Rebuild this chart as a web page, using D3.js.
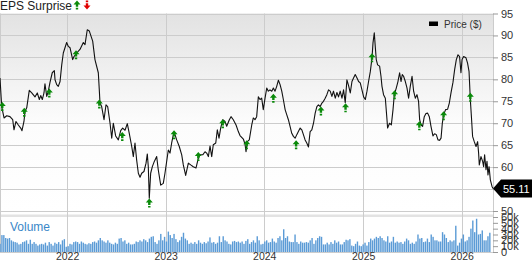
<!DOCTYPE html>
<html>
<head>
<meta charset="utf-8">
<script src="https://cdn.jsdelivr.net/npm/d3@7"></script>
<style>
  body { margin: 0; background: #fff; }
  text { font-family: "Liberation Sans", Arial, sans-serif; }
</style>
</head>
<body>
<div id="chart"></div>
<script>
// Price history, dates as decimal years
var priceDates = [
  2021.320, 2021.337, 2021.361, 2021.388, 2021.421, 2021.449, 2021.462, 2021.482, 2021.506, 2021.530,
  2021.543, 2021.563, 2021.574, 2021.591, 2021.617, 2021.642, 2021.675, 2021.698, 2021.719, 2021.733,
  2021.749, 2021.766, 2021.776, 2021.794, 2021.810, 2021.827, 2021.850, 2021.871, 2021.878, 2021.895,
  2021.911, 2021.929, 2021.946, 2021.962, 2021.996,
  2022.013, 2022.030, 2022.057, 2022.071, 2022.098, 2022.131, 2022.165, 2022.182, 2022.205, 2022.226,
  2022.260, 2022.283, 2022.317, 2022.327, 2022.334, 2022.351, 2022.375, 2022.395, 2022.412, 2022.436,
  2022.453, 2022.469, 2022.493, 2022.520, 2022.544, 2022.564, 2022.588, 2022.611, 2022.631, 2022.656,
  2022.672, 2022.689, 2022.706, 2022.723, 2022.740, 2022.757, 2022.780, 2022.801, 2022.814, 2022.824,
  2022.834, 2022.848, 2022.865, 2022.885, 2022.909, 2022.925, 2022.950, 2022.976, 2022.993,
  2023.027, 2023.044, 2023.061, 2023.078, 2023.095, 2023.112, 2023.138, 2023.163, 2023.179, 2023.203,
  2023.230, 2023.254, 2023.280, 2023.308, 2023.331, 2023.348, 2023.376, 2023.399, 2023.416, 2023.433,
  2023.450, 2023.467, 2023.483, 2023.508, 2023.524, 2023.541, 2023.558, 2023.579, 2023.602, 2023.619,
  2023.646, 2023.663, 2023.686, 2023.714, 2023.737, 2023.754, 2023.788, 2023.805, 2023.815, 2023.828,
  2023.848, 2023.873, 2023.889, 2023.906, 2023.923, 2023.940, 2023.957, 2023.974, 2023.990,
  2024.008, 2024.025, 2024.041, 2024.058, 2024.076, 2024.092, 2024.109, 2024.126, 2024.143, 2024.160,
  2024.177, 2024.193, 2024.211, 2024.228, 2024.244, 2024.261, 2024.278, 2024.295, 2024.312, 2024.329,
  2024.345, 2024.363, 2024.380, 2024.396, 2024.413, 2024.430, 2024.447, 2024.464, 2024.481, 2024.498,
  2024.515, 2024.532, 2024.548, 2024.566, 2024.583, 2024.599, 2024.616, 2024.633, 2024.650, 2024.667,
  2024.684, 2024.700, 2024.718, 2024.735, 2024.751, 2024.768, 2024.786, 2024.802, 2024.819, 2024.836,
  2024.852, 2024.870, 2024.887, 2024.903, 2024.920, 2024.938, 2024.954, 2024.971, 2024.988,
  2025.005, 2025.022, 2025.039, 2025.055, 2025.073, 2025.090, 2025.100, 2025.113, 2025.123, 2025.133,
  2025.147, 2025.167, 2025.181, 2025.191, 2025.207, 2025.225, 2025.242, 2025.248, 2025.268, 2025.286,
  2025.303, 2025.316, 2025.336, 2025.353, 2025.370, 2025.384, 2025.397, 2025.410, 2025.428, 2025.445,
  2025.461, 2025.478, 2025.496, 2025.512, 2025.529, 2025.546, 2025.562, 2025.573, 2025.587, 2025.603,
  2025.620, 2025.637, 2025.654, 2025.671, 2025.688, 2025.708, 2025.725, 2025.742, 2025.759, 2025.775,
  2025.790, 2025.803, 2025.816, 2025.836, 2025.857, 2025.874, 2025.891, 2025.911, 2025.928, 2025.945,
  2025.962, 2025.978, 2025.992,
  2026.003, 2026.019, 2026.043, 2026.059, 2026.074, 2026.087, 2026.100, 2026.110, 2026.127, 2026.145,
  2026.161, 2026.171, 2026.178, 2026.195, 2026.212, 2026.222, 2026.232, 2026.246, 2026.256, 2026.266,
  2026.277, 2026.290, 2026.307, 2026.317
];
var priceValues = [
  80.3, 73.8, 71.2, 71.7, 71.5, 70.8, 68.5, 70.4, 69.6, 68.9,
  68.3, 70.4, 72.7, 73.5, 77.5, 76.9, 76.0, 76.9, 75.4, 76.3,
  75.4, 76.9, 79.0, 76.1, 77.3, 79.3, 81.5, 82.0, 79.9, 78.8,
  78.4, 79.5, 83.3, 86.0, 88.4,
  87.5, 87.2, 84.5, 85.2, 86.0, 86.8, 88.4, 87.9, 91.3, 91.0,
  88.7, 84.5, 81.5, 77.6, 74.6, 73.8, 70.8, 74.2, 73.8, 70.0,
  66.6, 70.0, 67.1, 66.2, 68.3, 68.9, 68.4, 69.9, 67.7, 64.7,
  62.4, 65.5, 61.6, 58.6, 57.7, 58.6, 59.0, 60.9, 63.0, 60.1,
  52.9, 58.6, 60.1, 61.3, 62.4, 59.4, 55.9, 56.3, 58.6,
  63.9, 63.2, 65.5, 67.4, 67.4, 66.2, 64.7, 62.8, 60.5, 58.1,
  60.9, 60.5, 60.1, 59.8, 62.0, 62.8, 62.8, 63.5, 63.2, 62.4,
  64.8, 62.4, 65.1, 65.5, 68.5, 66.6, 68.9, 70.8, 70.4, 69.3,
  70.8, 71.5, 70.8, 69.6, 68.1, 67.2, 66.4, 65.2, 63.5, 65.8,
  66.2, 69.6, 71.2, 70.8, 71.5, 76.0, 75.4, 75.7, 73.1,
  75.7, 78.0, 77.3, 77.6, 77.3, 78.0, 77.3, 78.4, 79.8, 78.8,
  77.3, 75.4, 73.1, 71.9, 70.8, 69.3, 67.7, 67.0, 66.6, 67.4,
  68.1, 68.9, 68.5, 67.4, 66.2, 65.5, 64.6, 68.1, 68.5, 70.0,
  72.3, 73.8, 74.2, 73.8, 74.6, 75.0, 75.7, 76.5, 77.6, 77.3,
  76.1, 77.3, 75.7, 77.0, 76.0, 77.3, 75.7, 77.6, 74.7, 79.9,
  78.6, 76.9, 79.5, 80.3, 81.1, 80.3, 79.5, 79.2, 77.6,
  76.0, 75.4, 77.3, 79.5, 81.8, 84.9, 88.3, 90.6, 87.5, 84.5,
  83.3, 83.0, 80.7, 78.4, 76.5, 75.7, 70.8, 68.9, 70.0, 69.6,
  73.1, 76.5, 78.0, 79.5, 81.5, 79.5, 81.1, 80.7, 79.5, 78.0,
  75.7, 78.4, 80.7, 77.3, 75.7, 76.5, 75.0, 70.8, 69.6, 69.3,
  71.5, 72.2, 72.3, 71.5, 69.3, 67.1, 67.6, 67.4, 66.2, 66.1,
  66.6, 70.0, 71.9, 73.1, 73.2, 74.6, 76.9, 79.3, 82.2, 84.5,
  85.6, 85.2, 81.5,
  84.5, 85.2, 84.9, 83.7, 81.8, 75.4, 70.8, 67.0, 65.8, 64.7,
  65.8, 63.2, 60.5, 62.4, 61.3, 60.1, 62.8, 59.4, 61.3, 58.2,
  60.1, 57.1, 55.6, 55.11
];

// Earnings reports (all beats)
var epsDates = [
  2021.343, 2021.566, 2021.820, 2022.091, 2022.327, 2022.560, 2022.834, 2023.085, 2023.331, 2023.579,
  2023.822, 2024.092, 2024.322, 2024.573, 2024.822, 2025.090, 2025.319, 2025.570, 2025.816, 2026.087
];
var epsValues = [
  73.8, 72.5, 76.9, 85.6, 74.4, 67.0, 51.8, 67.4, 62.4, 69.9,
  65.1, 75.7, 65.1, 72.8, 73.5, 84.9, 76.5, 69.4, 71.7, 75.9
];

// Weekly volume in thousands, first week starting volumeStart
var volumeStart = "2021-04-28";
var volumeValues = [
  14, 29, 29, 24, 23, 24, 20, 18, 17, 16, 13, 14, 17, 18, 20, 14, 21, 14, 17, 14,
  11, 13, 14, 13, 16, 11, 17, 14, 11, 16, 14, 17, 13, 20, 22, 9, 10, 14, 13, 17,
  18, 17, 14, 18, 16, 14, 13, 15, 14, 17, 18, 16, 20, 24, 20, 18, 16, 20, 16, 14,
  13, 16, 14, 23, 24, 18, 20, 14, 16, 13, 13, 14, 18, 17, 20, 18, 22, 20, 17, 23,
  26, 27, 17, 14, 20, 31, 20, 26, 18, 35, 29, 24, 31, 22, 17, 20, 26, 33, 23, 20,
  14, 16, 14, 17, 14, 20, 16, 14, 17, 15, 18, 25, 16, 17, 14, 16, 27, 17, 27, 20,
  18, 14, 13, 18, 19, 17, 18, 16, 18, 14, 19,
  22, 14, 17, 20, 16, 27, 20, 13, 14, 18, 20, 16, 17, 23, 18, 16, 24, 27, 20, 39,
  24, 27, 18, 17, 17, 30, 17, 14, 18, 16, 16, 17, 16, 20, 24, 14, 20, 24, 27, 26,
  13, 13, 16, 13, 17, 14, 20, 16, 18, 13, 13, 17, 21, 20, 22, 11, 10, 14, 18, 11,
  10, 13, 16, 11, 17, 23, 20, 23, 26, 24, 27, 24, 20, 18, 27, 16, 18, 26, 16, 18,
  16, 17, 14, 18, 23, 20, 14, 16, 14, 18, 30, 23, 24, 17, 18, 23, 17, 30, 26, 20,
  20, 18, 18, 34, 30, 24, 17, 20, 18, 20, 45, 11, 16, 23, 30, 18, 20, 26, 40, 54,
  34, 57, 30, 31, 37, 20, 20, 27, 33
];

var yearTicks = [2022, 2023, 2024, 2025, 2026];
var priceTicks = [50, 55, 60, 65, 70, 75, 80, 85, 90, 95];
var volumeTicks = [0, 10, 20, 30, 40, 50, 60];
var lastPrice = 55.11;

var svgWidth = 532, svgHeight = 262;
var plot = {left: 0, right: 493, top: 13.5, priceBottom: 211, volTop: 217, volBottom: 252};

// decimal year -> Date
function decYear(t) {
  var yr = Math.floor(t);
  var a = new Date(yr, 0, 1), b = new Date(yr + 1, 0, 1);
  return new Date(+a + (t - yr) * (b - a));
}

var svg = d3.select("#chart").append("svg")
  .attr("width", svgWidth)
  .attr("height", svgHeight);

var x = d3.scaleTime()
  .domain([decYear(2021.32), decYear(2026.317)])
  .range([plot.left, plot.right]);
var y = d3.scaleLinear().domain([50, 95]).range([plot.priceBottom, plot.top]);
var yVol = d3.scaleLinear().domain([0, 60]).range([plot.volBottom, plot.volTop]);

// background gradient in price panel
var grad = svg.append("defs").append("linearGradient")
  .attr("id", "bg").attr("x1", 0).attr("y1", 0).attr("x2", 0).attr("y2", 1);
grad.append("stop").attr("offset", "0%").attr("stop-color", "#e2e2e2");
grad.append("stop").attr("offset", "55%").attr("stop-color", "#fcfcfc");
grad.append("stop").attr("offset", "100%").attr("stop-color", "#ffffff");

svg.append("rect")
  .attr("x", plot.left).attr("y", plot.top)
  .attr("width", plot.right - plot.left).attr("height", plot.priceBottom - plot.top)
  .attr("fill", "url(#bg)");

// separator band between price and volume
svg.append("rect")
  .attr("x", plot.left).attr("y", 214.5)
  .attr("width", plot.right - plot.left).attr("height", 2.5)
  .attr("fill", "#e3e3e3");

// horizontal grid
svg.append("g").selectAll("line")
  .data(priceTicks)
  .enter().append("line")
  .attr("x1", plot.left).attr("x2", plot.right)
  .attr("y1", d => Math.round(y(d)) + 0.5).attr("y2", d => Math.round(y(d)) + 0.5)
  .attr("stroke", "#cccccc");

// vertical grid
svg.append("g").selectAll("line")
  .data(yearTicks)
  .enter().append("line")
  .attr("x1", d => Math.round(x(new Date(d, 0, 1))) + 0.5)
  .attr("x2", d => Math.round(x(new Date(d, 0, 1))) + 0.5)
  .attr("y1", plot.top).attr("y2", plot.volBottom)
  .attr("stroke", "#cccccc");

// frame
svg.append("line")
  .attr("x1", 0.5).attr("x2", 0.5).attr("y1", plot.top).attr("y2", plot.volBottom)
  .attr("stroke", "#cccccc");
svg.append("line")
  .attr("x1", plot.right + 0.5).attr("x2", plot.right + 0.5).attr("y1", plot.top).attr("y2", plot.volBottom)
  .attr("stroke", "#cccccc");
svg.append("line")
  .attr("x1", plot.left).attr("x2", plot.right).attr("y1", plot.volBottom + 0.5).attr("y2", plot.volBottom + 0.5)
  .attr("stroke", "#cccccc");

// volume bars
var volData = volumeValues.map((v, i) => ({date: d3.timeDay.offset(new Date(volumeStart + "T00:00:00"), 7 * i), v: v}));
svg.append("g").selectAll("rect")
  .data(volData)
  .enter().append("rect")
  .attr("x", d => x(d.date) - 0.7)
  .attr("width", 1.4)
  .attr("y", d => yVol(d.v))
  .attr("height", d => plot.volBottom - yVol(d.v))
  .attr("fill", "#5b9bd6");

svg.append("text")
  .attr("x", 10).attr("y", 231)
  .attr("font-size", 12)
  .attr("fill", "#3a87c8")
  .text("Volume");

// price line
var priceData = priceDates.map((t, i) => ({date: decYear(t), v: priceValues[i]}));
var line = d3.line()
  .x(d => x(d.date))
  .y(d => y(d.v));

svg.append("path")
  .datum(priceData)
  .attr("d", line)
  .attr("fill", "none")
  .attr("stroke", "#111")
  .attr("stroke-width", 1.1)
  .attr("stroke-linejoin", "round");

// earnings arrows
var arrowPath = "M0,-4.5L3.5,-0.5L1.2,-0.5L1.2,1.8L-1.2,1.8L-1.2,-0.5L-3.5,-0.5Z M-1.2,2.8L1.2,2.8L1.2,4.5L-1.2,4.5Z";
svg.append("g").selectAll("path")
  .data(epsDates.map((t, i) => ({date: decYear(t), v: epsValues[i]})))
  .enter().append("path")
  .attr("d", arrowPath)
  .attr("transform", d => `translate(${x(d.date)},${y(d.v)})`)
  .attr("fill", "#0a8a0a");

// axes (the 55 label sits under the last-price flag, so it is left blank)
var priceAxis = svg.append("g")
  .attr("transform", `translate(${plot.right},0)`)
  .call(d3.axisRight(y).tickValues(priceTicks).tickSize(5).tickPadding(3)
    .tickFormat(d => Math.abs(y(d) - y(lastPrice)) < 9 ? "" : d));
var volAxis = svg.append("g")
  .attr("transform", `translate(${plot.right},0)`)
  .call(d3.axisRight(yVol).tickValues(volumeTicks).tickSize(5).tickPadding(3)
    .tickFormat(d => d ? d + "k" : "0"));
var xAxis = svg.append("g")
  .attr("transform", `translate(0,${plot.volBottom})`)
  .call(d3.axisBottom(x).tickValues(yearTicks.map(d => new Date(d, 0, 1)))
    .tickSize(0).tickPadding(1).tickFormat(d3.timeFormat("%Y")));

[priceAxis, volAxis, xAxis].forEach(function(g) {
  g.select(".domain").remove();
  g.selectAll("line").attr("stroke", "#999");
  g.selectAll("text")
    .attr("font-family", "'Liberation Sans', Arial, sans-serif")
    .attr("font-size", 11)
    .attr("fill", "#333");
});
xAxis.selectAll("text").attr("font-size", 10.5);

// last price flag
var ly = y(lastPrice);
svg.append("path")
  .attr("d", `M${plot.right},${ly}L${plot.right + 8},${ly - 9}L${svgWidth},${ly - 9}L${svgWidth},${ly + 9}L${plot.right + 8},${ly + 9}Z`)
  .attr("fill", "#000");
svg.append("text")
  .attr("x", plot.right + 10).attr("y", ly + 4)
  .attr("font-size", 11)
  .attr("fill", "#fff")
  .text(d3.format(".2f")(lastPrice));

// title
svg.append("text")
  .attr("x", 0).attr("y", 10)
  .attr("font-size", 12)
  .attr("fill", "#222")
  .text("EPS Surprise");
svg.append("path")
  .attr("d", arrowPath)
  .attr("transform", "translate(77,5)")
  .attr("fill", "#0a8a0a");
svg.append("path")
  .attr("d", arrowPath)
  .attr("transform", "translate(87,5) scale(1,-1)")
  .attr("fill", "#e00000");

// legend
svg.append("rect")
  .attr("x", 429).attr("y", 21.5)
  .attr("width", 9).attr("height", 4.5)
  .attr("fill", "#000");
svg.append("text")
  .attr("x", 444).attr("y", 27.5)
  .attr("font-size", 10)
  .attr("fill", "#333")
  .text("Price ($)");
</script>
</body>
</html>
